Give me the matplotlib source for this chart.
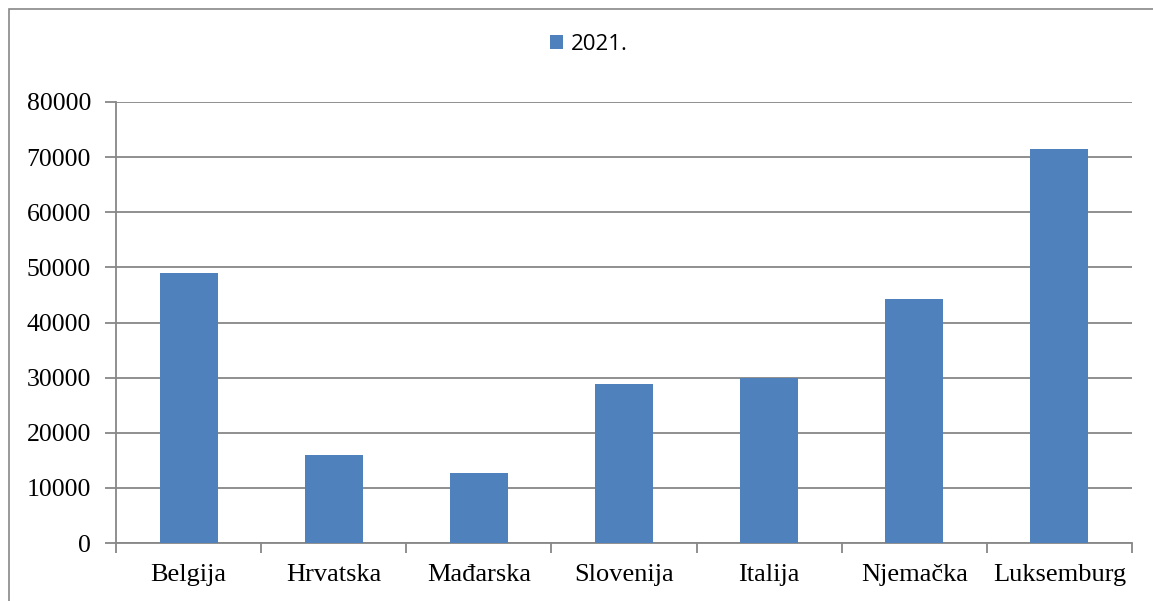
import matplotlib
matplotlib.use('Agg')
import matplotlib.pyplot as plt
from matplotlib.patches import Rectangle

drzave = ['Belgija', 'Hrvatska', 'Mađarska', 'Slovenija', 'Italija', 'Njemačka', 'Luksemburg']
vrijednosti_2021 = [48900, 15900, 12700, 28800, 30000, 44300, 71500]
y_oznake = [0, 10000, 20000, 30000, 40000, 50000, 60000, 70000, 80000]

plava = '#4F81BD'
siva = '#878787'

fig = plt.figure(figsize=(11.53, 6.01), dpi=100)
# okvir grafikona
fig.patches.append(Rectangle((9/1153, -0.1), 1.2, 1.1 - 9/601, transform=fig.transFigure,
                             fill=False, edgecolor=siva, linewidth=1.2))

ax = fig.add_axes([116/1153, 58/601, 1016/1153, 441/601])
x = range(len(drzave))
ax.bar(x, vrijednosti_2021, width=0.4, color=plava, label='2021.', zorder=3)

ax.set_xlim(-0.5, len(drzave) - 0.5)
ax.set_ylim(0, 80000)
ax.set_yticks(y_oznake)
ax.set_yticklabels([str(v) for v in y_oznake], fontfamily='Liberation Serif', fontsize=18.5)
ax.yaxis.grid(True, color=siva, linewidth=1.3, zorder=0)
ax.tick_params(axis='y', length=8, width=1.3, color=siva, pad=10)

# oznake kategorija, crtice na granicama
ax.set_xticks([i - 0.5 for i in range(len(drzave) + 1)])
ax.set_xticklabels([])
ax.set_xticks(list(x), minor=True)
ax.set_xticklabels(drzave, minor=True, fontfamily='Liberation Serif', fontsize=19)
ax.tick_params(axis='x', which='major', length=7, width=1.3, color=siva)
ax.tick_params(axis='x', which='minor', length=0, pad=15)

for s in ['top', 'right']:
    ax.spines[s].set_visible(False)
for s in ['left', 'bottom']:
    ax.spines[s].set_color(siva)
    ax.spines[s].set_linewidth(1.3)

leg = fig.legend(loc='center', bbox_to_anchor=(589/1153, 1 - 44/601), frameon=False,
                 prop={'family': 'Open Sans', 'size': 16}, handlelength=0.6, handleheight=0.6,
                 handletextpad=0.35)

fig.savefig('out.png', dpi=100)
